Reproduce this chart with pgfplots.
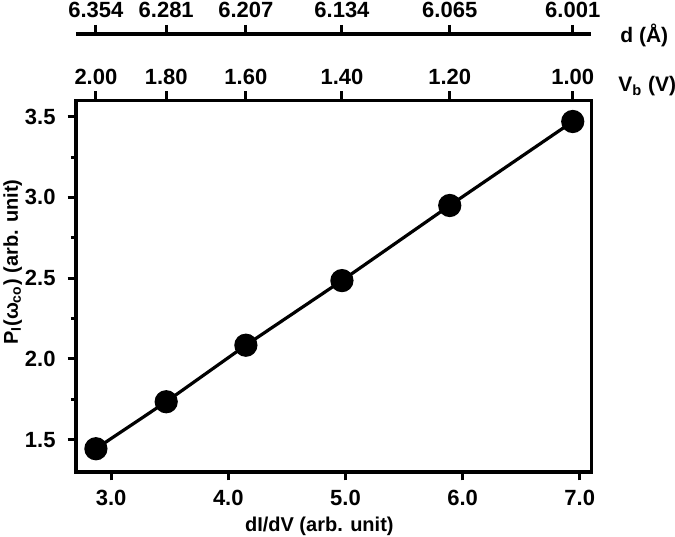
\documentclass[border=0pt]{standalone}
\usepackage{fontspec}
\setmainfont{Liberation Sans}
\usepackage{pgfplots}
\pgfplotsset{compat=1.18}
\begin{document}
\begin{tikzpicture}[font=\fontsize{10.5}{12}\selectfont\bfseries]
\path[use as bounding box] (-38pt,-32pt) rectangle (299.5pt,236pt);
\pgfplotsset{
  every axis/.append style={
    scale only axis, width=257.75pt, height=185.75pt,
    xmin=2.7, xmax=7.1,
    tick align=outside,
    clip=false,
    axis line style={line width=1.7pt, black},
    tick style={line width=1.5pt, black},
    major tick length=4.2pt, minor tick length=2.6pt,
    ticklabel style={font=\fontsize{11}{13}\selectfont\bfseries},
    label style={font=\fontsize{10}{12}\selectfont\bfseries},
  }
}
% main axis
\begin{axis}[
  at={(0,0)}, anchor=south west,
  ymin=1.3, ymax=3.6,
  xtick pos=bottom, ytick pos=left,
  xtick={3,4,5,6,7}, xticklabels={3.0,4.0,5.0,6.0,7.0},
  ytick={1.5,2.0,2.5,3.0,3.5}, yticklabels={1.5,2.0,2.5,3.0,3.5},
  minor ytick={1.75,2.25,2.75,3.25},
  xticklabel style={yshift=-1.2pt},
  yticklabel style={xshift=-2.5pt},
  xlabel={dI/dV (arb. unit)},
  ylabel={P\textsubscript{I}(ω\textsubscript{co}) (arb. unit)},
  xlabel style={at={(ticklabel cs:0.472)}, yshift=1pt},
  ylabel style={at={(axis description cs:-0.123,0.565)}, anchor=center},
]
\addplot[black, line width=1.6pt, mark=*, mark size=5pt, mark options={fill=black}] table {
x y
2.87 1.444
3.47 1.735
4.15 2.085
4.97 2.485
5.89 2.950
6.94 3.470
};
\end{axis}
% V_b top axis
\begin{axis}[
  at={(0,0)}, anchor=south west,
  ymin=0, ymax=1,
  axis x line*=top, axis y line=none,
  major tick length=4.5pt,
  xtick={2.87,3.47,4.15,4.97,5.89,6.94},
  xticklabels={2.00,1.80,1.60,1.40,1.20,1.00},
]
\addplot[draw=none] coordinates {(3,0.5)};
\node[anchor=base west, inner sep=0pt, font=\fontsize{10.5}{12}\selectfont\bfseries] at (rel axis cs:1,1) [xshift=13.25pt, yshift=4.25pt] {V\textsubscript{b} (V)};
\end{axis}
% d axis
\begin{axis}[
  at={(0,219pt)}, anchor=north west, height=10pt,
  ymin=0, ymax=1,
  axis x line*=top, axis y line=none,
  major tick length=4.5pt,
  xtick={2.87,3.47,4.15,4.97,5.89,6.94},
  xticklabels={6.354,6.281,6.207,6.134,6.065,6.001},
]
\addplot[draw=none] coordinates {(3,0.5)};
\node[anchor=base west, inner sep=0pt, font=\fontsize{10.5}{12}\selectfont\bfseries] at (rel axis cs:1,1) [xshift=14.25pt, yshift=-4.5pt] {d (Å)};
\end{axis}
\end{tikzpicture}
\end{document}
